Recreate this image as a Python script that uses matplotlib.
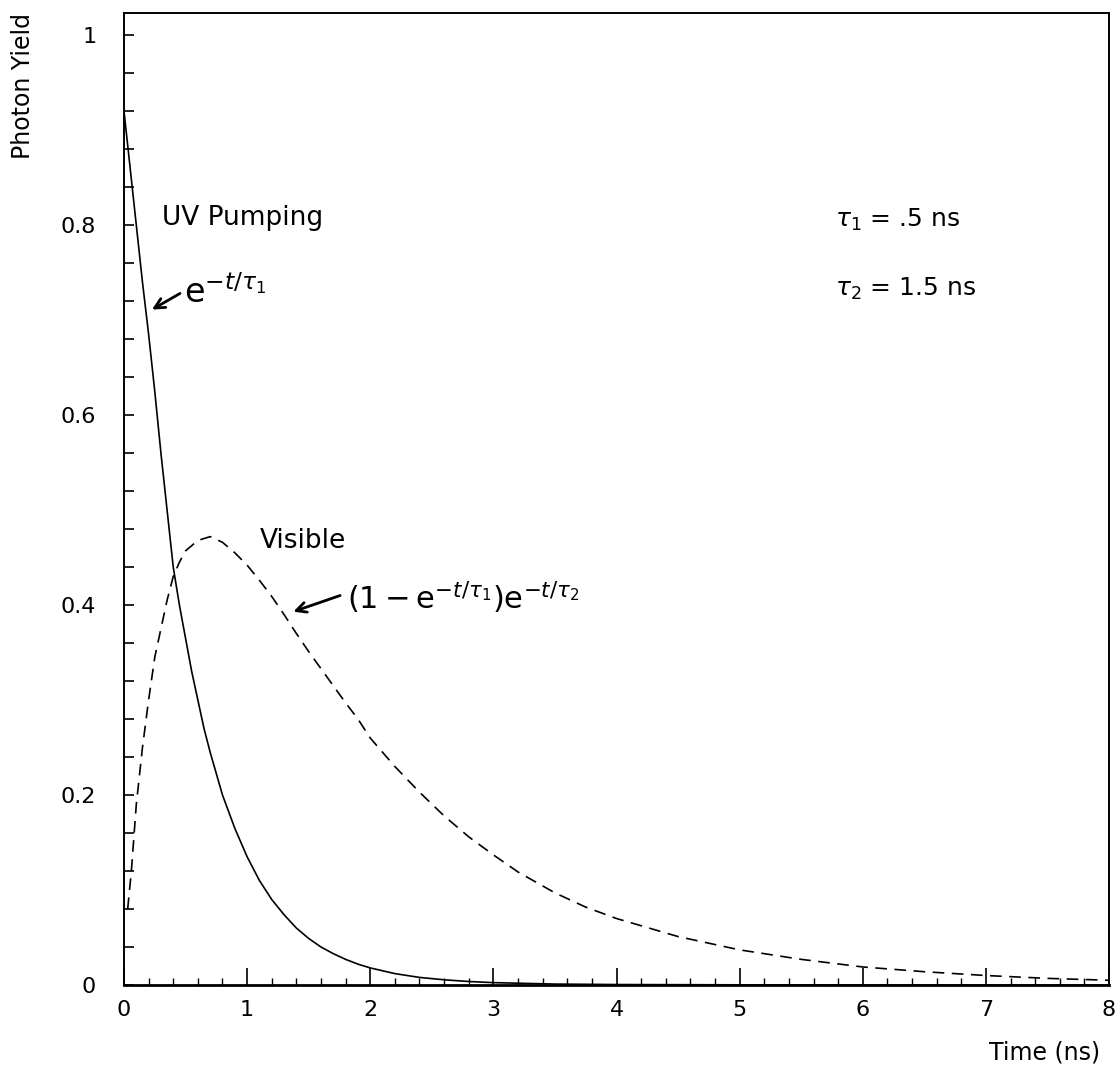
import matplotlib
matplotlib.use("Agg")
import matplotlib.pyplot as plt
from matplotlib.ticker import MultipleLocator, FixedLocator, FixedFormatter

plt.rcParams['font.family'] = ['DejaVu Sans']
plt.rcParams['mathtext.fontset'] = 'dejavusans'

# --- data ---
uv_t = [0.00, 0.05, 0.10, 0.15, 0.20, 0.25, 0.30, 0.35, 0.40, 0.45, 0.50, 0.55,
        0.60, 0.65, 0.70, 0.80, 0.90, 1.00, 1.10, 1.20, 1.30, 1.40, 1.50, 1.60,
        1.70, 1.80, 1.90, 2.00, 2.20, 2.40, 2.60, 2.80, 3.00, 3.50, 4.00, 5.00, 6.00, 8.00]
uv_y = [0.92, 0.86, 0.80, 0.74, 0.685, 0.625, 0.56, 0.50, 0.44, 0.40, 0.365, 0.33,
        0.30, 0.27, 0.245, 0.20, 0.165, 0.135, 0.11, 0.09, 0.074, 0.060, 0.049, 0.040,
        0.033, 0.027, 0.022, 0.018, 0.012, 0.008, 0.0055, 0.0037, 0.0025, 0.001, 0.0005,
        0.0002, 0.0, 0.0]

vis_t = [0.03, 0.06, 0.10, 0.15, 0.20, 0.25, 0.30, 0.35, 0.40, 0.45, 0.50, 0.60, 0.70,
         0.80, 0.90, 1.00, 1.10, 1.20, 1.30, 1.40, 1.50, 1.60, 1.70, 1.80, 1.90, 2.00,
         2.20, 2.40, 2.60, 2.80, 3.00, 3.20, 3.50, 3.75, 4.00, 4.50, 5.00, 5.50, 6.00,
         6.50, 7.00, 7.50, 8.00]
vis_y = [0.08, 0.12, 0.19, 0.25, 0.30, 0.345, 0.375, 0.405, 0.43, 0.445, 0.457, 0.468,
         0.472, 0.466, 0.455, 0.442, 0.426, 0.409, 0.39, 0.37, 0.351, 0.333, 0.315,
         0.297, 0.28, 0.26, 0.23, 0.203, 0.178, 0.156, 0.137, 0.119, 0.097, 0.082,
         0.070, 0.051, 0.037, 0.027, 0.019, 0.014, 0.010, 0.007, 0.005]

y_ticks = [0, 0.2, 0.4, 0.6, 0.8, 1.0]
y_tick_labels = ["0", "0.2", "0.4", "0.6", "0.8", "1"]
x_ticks = [0, 1, 2, 3, 4, 5, 6, 7, 8]
x_tick_labels = ["0", "1", "2", "3", "4", "5", "6", "7", "8"]

fig = plt.figure(figsize=(11.2, 10.68), dpi=100)
ax = fig.add_axes([0.1107, 0.0777, 0.8795, 0.9104])

ax.plot(uv_t, uv_y, color='black', lw=1.2)
ax.plot(vis_t, vis_y, color='black', lw=1.2, linestyle=(0, (7, 4.5)))

ax.set_xlim(0, 8)
ax.set_ylim(0, 1.0235)

# ticks
ax.yaxis.set_major_locator(FixedLocator(y_ticks))
ax.yaxis.set_major_formatter(FixedFormatter(y_tick_labels))
ax.yaxis.set_minor_locator(MultipleLocator(0.04))
ax.xaxis.set_major_locator(FixedLocator(x_ticks))
ax.xaxis.set_major_formatter(FixedFormatter(x_tick_labels))
ax.xaxis.set_minor_locator(MultipleLocator(0.2))

ax.tick_params(axis='y', which='both', direction='in', length=7.5, width=1.2,
               left=True, right=False, labelsize=16, pad=20)
ax.tick_params(axis='x', which='major', direction='in', length=12, width=1.2,
               bottom=True, top=False, labelsize=16, pad=11)
ax.tick_params(axis='x', which='minor', direction='in', length=5, width=1.0,
               bottom=True, top=False)

for s in ['left', 'top', 'right']:
    ax.spines[s].set_linewidth(1.4)
ax.spines['bottom'].set_linewidth(2.0)

ax.set_ylabel("Photon Yield", fontsize=17, loc='top')
ax.yaxis.set_label_coords(-0.090, 1.0)
ax.set_xlabel("Time (ns)", fontsize=17, loc='right')
ax.xaxis.set_label_coords(0.991, -0.0566)

# annotations
ax.text(0.309, 0.80, "UV Pumping", fontsize=19, va='baseline', ha='left')
ax.text(1.105, 0.46, "Visible", fontsize=19, va='baseline', ha='left')

arrow_kw = dict(arrowstyle='->', lw=2.0, color='black',
                mutation_scale=18, shrinkA=0, shrinkB=0)
ax.annotate("", xy=(0.227, 0.711), xytext=(0.455, 0.728), arrowprops=arrow_kw)
ax.text(0.49, 0.718, r"$\mathrm{e}^{-t/\tau_1}$", fontsize=24, va='baseline', ha='left')

ax.annotate("", xy=(1.375, 0.393), xytext=(1.755, 0.41), arrowprops=arrow_kw)
ax.text(1.81, 0.395, r"$(1-\mathrm{e}^{-t/\tau_1})\mathrm{e}^{-t/\tau_2}$", fontsize=22,
        va='baseline', ha='left')

ax.text(5.776, 0.798, r"$\tau_1$ = .5 ns", fontsize=18, va='baseline', ha='left')
ax.text(5.776, 0.726, r"$\tau_2$ = 1.5 ns", fontsize=18, va='baseline', ha='left')

fig.savefig("out.png", dpi=100)
